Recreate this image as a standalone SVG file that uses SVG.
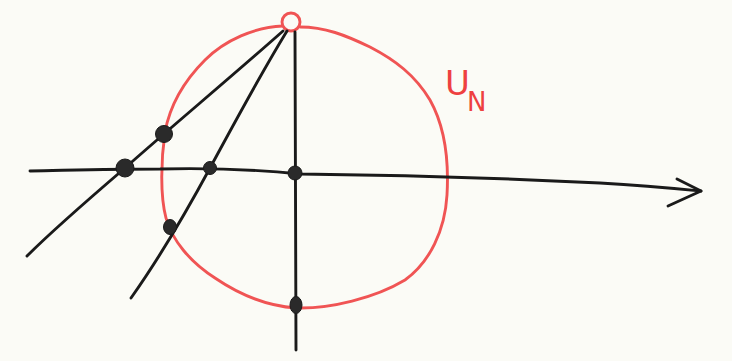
<svg xmlns="http://www.w3.org/2000/svg" width="732" height="361" viewBox="0 0 732 361">
<style>
.ink{fill:none;stroke:#1a1a1a;stroke-width:2.9;stroke-linecap:round;stroke-linejoin:round}
.red{fill:none;stroke:#f05454;stroke-width:2.9;stroke-linecap:round}
.dot{fill:#2a2a2a;stroke:#1a1a1a;stroke-width:1}
.lbl{fill:#ee4040;font-family:"DejaVu Sans",sans-serif}
</style>
<rect width="732" height="361" fill="#fbfbf6"/>
<g id="sphere">
<path class="red" d="M283,26 C255,27 225,40 205,60 C185,80 170,105 165,132 C161,160 160,195 166,218 C172,240 190,262 215,278 C240,295 268,306 296,308 C330,309 375,298 405,280 C430,262 445,230 447,195 C449,160 444,125 430,100 C415,75 395,60 370,47 C345,35 325,27 300,27"/>
<text class="lbl" x="445" y="95" font-size="34">U<tspan font-size="26" dy="16" dx="-3">N</tspan></text>
</g>
<g id="north-pole">
<circle cx="291" cy="22" r="9" fill="#fbfbf6" stroke="#f05454" stroke-width="2.9"/>
</g>
<g id="connectors">
<path class="ink" d="M30,171 C80,170 110,169 160,169 C200,168 250,169 300,174 C400,175 500,178 600,183 C650,186 680,189 701,191"/>
<path class="ink" d="M677,179 L701,191 L668,206"/>
<path class="ink" d="M283,31 C230,78 170,128 125,168 C90,198 55,228 27,256"/>
<path class="ink" d="M287,31 C260,75 235,122 210,168 C190,205 165,250 131,298"/>
<path class="ink" d="M295,32 L296,350"/>
</g>
<g id="points">
<circle class="dot" cx="164" cy="134" r="8.5"/>
<circle class="dot" cx="125" cy="168" r="9"/>
<circle class="dot" cx="210" cy="168" r="6.5"/>
<ellipse class="dot" cx="170" cy="227" rx="6.5" ry="7.5"/>
<circle class="dot" cx="295" cy="173" r="7"/>
<ellipse class="dot" cx="296" cy="305" rx="6" ry="8.5"/>
</g>
</svg>
